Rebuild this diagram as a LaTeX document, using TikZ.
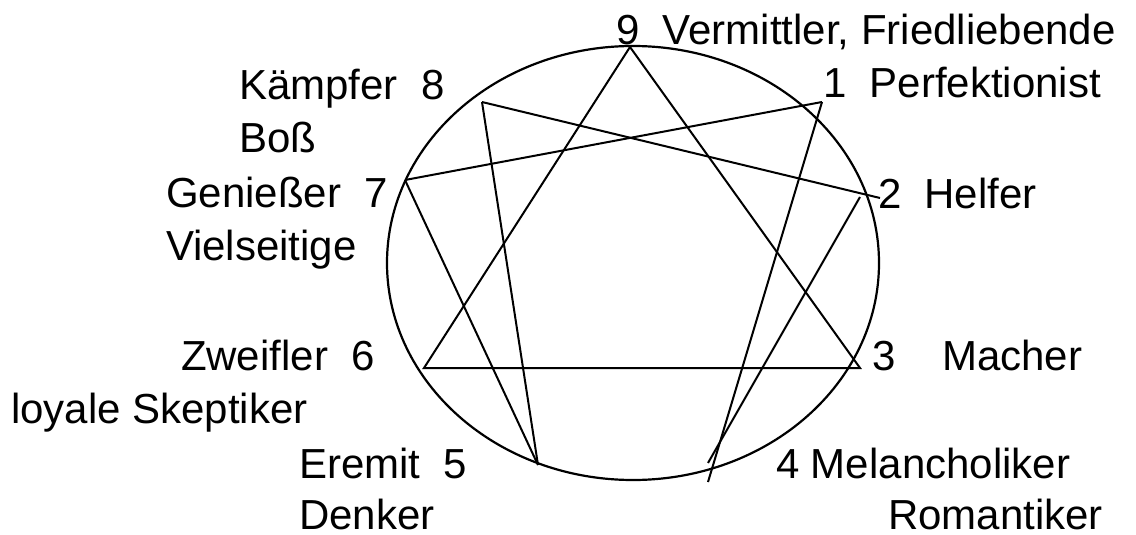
\documentclass[tikz,border=0pt]{standalone}
\usepackage{fontspec}
\setmainfont{Liberation Sans}
\begin{document}
\begin{tikzpicture}[x=0.5pt,y=-0.5pt,line width=1pt,
  lbl/.style={anchor=base west,inner sep=0pt,font=\fontsize{21}{24}\selectfont},
  edge/.style={line width=1pt}]
\useasboundingbox (0,0) rectangle (1136,535);
% circle
\draw[line width=1.1pt] (633,263) ellipse [x radius=123pt, y radius=108.5pt];
% points
\coordinate (p9) at (630,47);
\coordinate (p8) at (482,102);
\coordinate (p1) at (822,102);
\coordinate (p7) at (405,180);
\coordinate (p2a) at (880,198);
\coordinate (p2b) at (860,197);
\coordinate (p6) at (424,368);
\coordinate (p3) at (860,368);
\coordinate (p5) at (538,465);
\coordinate (p4a) at (708,482);
\coordinate (p4b) at (708,463);
% triangle
\draw[edge] (p9) -- (p3) -- (p6) -- (p9);
% hexad
\draw[edge] (p1) -- (p4a);
\draw[edge] (p4b) -- (p2b);
\draw[edge] (p2a) -- (p8);
\draw[edge] (p8) -- (p5);
\draw[edge] (p5) -- (p7);
\draw[edge] (p7) -- (p1);
% labels
\node[lbl] (l9) at (615,45) {9\ \ Vermittler, Friedliebende};
\node[lbl] (l8) at (238,100) {Kämpfer\ \ 8};
\node[lbl] (l8b) at (238,153) {Boß};
\node[lbl] (l1) at (822,98) {1\ \ Perfektionist};
\node[lbl] (l7) at (165,207) {Genießer\ \ 7};
\node[lbl] (l7b) at (165,260) {Vielseitige};
\node[lbl] (l2) at (877,208) {2\ \ Helfer};
\node[lbl] (l6) at (180,370) {Zweifler\ \ 6};
\node[lbl] (l6b) at (10,423) {loyale Skeptiker};
\node[lbl] (l3) at (871,370) {3\ \ \ \ Macher};
\node[lbl] (l5) at (298,478) {Eremit\ \ 5};
\node[lbl] (l5b) at (298,529) {Denker};
\node[lbl] (l4) at (775,478) {4 Melancholiker};
\node[lbl] (l4b) at (887,529) {Romantiker};
\end{tikzpicture}
\end{document}
